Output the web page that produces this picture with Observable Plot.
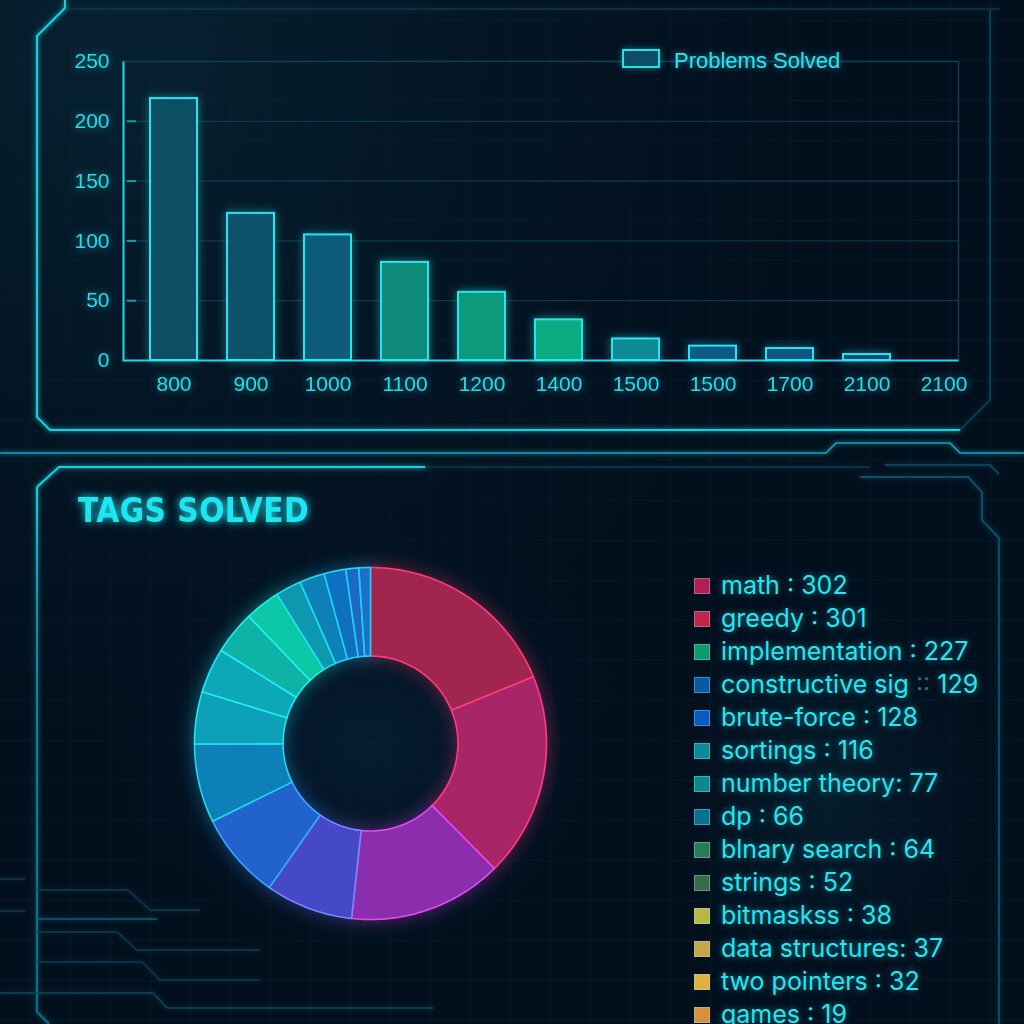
<!DOCTYPE html>
<html>
<head>
<meta charset="utf-8">
<script src="https://cdn.jsdelivr.net/npm/d3@7"></script>
<script src="https://cdn.jsdelivr.net/npm/@observablehq/plot@0.6"></script>
<style>
html, body { margin: 0; padding: 0; background: #020d19; }
#stage {
  position: relative; width: 1024px; height: 1024px; overflow: hidden;
  background-color: #020f1d;
  background-image:
    linear-gradient(rgba(22, 95, 125, 0.13) 1px, transparent 1px),
    linear-gradient(90deg, rgba(22, 95, 125, 0.13) 1px, transparent 1px);
  background-size: 40px 40px;
  background-position: 30px 20px;
}
#deco { position: absolute; left: 0; top: 0; }
#bars { position: absolute; left: 0; top: 0; }
#donut { position: absolute; left: 190px; top: 563px; }
#barLegend {
  position: absolute; left: 622px; top: 49px; white-space: pre;
  font-family: "Liberation Sans", Arial, sans-serif; font-size: 22px; line-height: 22px;
  color: #2fe2ef; text-shadow: 0 0 6px rgba(40, 220, 240, 0.6);
}
#barLegend .sw {
  display: inline-block; width: 34px; height: 15px; vertical-align: baseline;
  background: #0c4e66; border: 2px solid #22e2f0; margin-right: 14px;
  box-shadow: 0 0 6px rgba(30, 220, 240, 0.5);
}
#tagLegend {
  position: absolute; left: 694px; top: 569px; white-space: pre;
  font-family: Inter, "Liberation Sans", sans-serif; font-size: 25px; line-height: 33px;
  color: #26e6f0; text-shadow: 0 0 7px rgba(30, 220, 240, 0.55);
}
#tagLegend .row { height: 33px; }
#tagLegend .sw {
  display: inline-block; width: 14px; height: 14px; vertical-align: baseline;
  border: 1px solid rgba(150, 240, 255, 0.35); margin-right: 11px;
}
#tagLegend .dim { color: #2a6f7a; text-shadow: none; }
#bars g[aria-label="bar"] { filter: url(#softGlow); }
#bars g[aria-label="y-axis tick label"], #bars g[aria-label="x-axis tick label"] {
  filter: drop-shadow(0 0 4px rgba(30, 220, 240, 0.55));
}
#donut g[aria-label="geo"] { filter: url(#donutGlow); }
.title {
  font-family: "DejaVu Sans Condensed", "DejaVu Sans", sans-serif; font-weight: bold;
  font-size: 33px; fill: #1ee6f2; letter-spacing: 0.5px;
}
</style>
</head>
<body>
<div id="stage">
  <svg id="deco" width="1024" height="1024">
    <defs>
      <radialGradient id="bgTop" cx="0.12" cy="0.05" r="0.9">
        <stop offset="0" stop-color="#0a3040" stop-opacity="0.55"/>
        <stop offset="1" stop-color="#020f1d" stop-opacity="0"/>
      </radialGradient>
      <radialGradient id="bgDonut" cx="0.5" cy="0.5" r="0.5">
        <stop offset="0" stop-color="#0b2a46" stop-opacity="0.5"/>
        <stop offset="1" stop-color="#020f1d" stop-opacity="0"/>
      </radialGradient>
      <radialGradient id="bgLegend" cx="0.5" cy="0.5" r="0.5">
        <stop offset="0" stop-color="#0b3040" stop-opacity="0.45"/>
        <stop offset="1" stop-color="#020f1d" stop-opacity="0"/>
      </radialGradient>
      <linearGradient id="leftFade" gradientUnits="userSpaceOnUse" x1="0" y1="487" x2="0" y2="1024">
        <stop offset="0" stop-color="#19cfe2"/>
        <stop offset="0.25" stop-color="#128aa0"/>
        <stop offset="1" stop-color="#0f6d82"/>
      </linearGradient>
      <filter id="lineGlow" x="-10%" y="-10%" width="120%" height="120%">
        <feGaussianBlur stdDeviation="2.5" result="b"/>
        <feMerge><feMergeNode in="b"/><feMergeNode in="SourceGraphic"/></feMerge>
      </filter>
      <filter id="softGlow" x="-30%" y="-30%" width="160%" height="160%">
        <feGaussianBlur in="SourceGraphic" stdDeviation="5" result="b"/>
        <feComponentTransfer in="b" result="b2"><feFuncA type="linear" slope="0.6"/></feComponentTransfer>
        <feMerge><feMergeNode in="b2"/><feMergeNode in="SourceGraphic"/></feMerge>
      </filter>
      <filter id="donutGlow" x="-30%" y="-30%" width="160%" height="160%">
        <feGaussianBlur in="SourceGraphic" stdDeviation="9" result="b"/>
        <feComponentTransfer in="b" result="b2"><feFuncA type="linear" slope="0.55"/></feComponentTransfer>
        <feMerge><feMergeNode in="b2"/><feMergeNode in="SourceGraphic"/></feMerge>
      </filter>
      <filter id="textGlow" x="-20%" y="-40%" width="140%" height="180%">
        <feGaussianBlur stdDeviation="4" result="b"/>
        <feMerge><feMergeNode in="b"/><feMergeNode in="SourceGraphic"/></feMerge>
      </filter>
    </defs>
    <rect x="0" y="0" width="1024" height="1024" fill="url(#bgTop)"/>
    <ellipse cx="370" cy="743" rx="290" ry="270" fill="url(#bgDonut)"/>
    <ellipse cx="830" cy="790" rx="220" ry="260" fill="url(#bgLegend)"/>
    <g fill="none" filter="url(#lineGlow)">
      <path d="M65,9 H1000" stroke="#0c3447" stroke-width="1.5"/>
      <path d="M960,430 L990,400 V9" stroke="#0d4456" stroke-width="1.5"/>
      <path d="M65,0 V8 L37,36 V417 L50,430 H960" stroke="#19cfe2" stroke-width="2"/>
      <path d="M0,453 H826 L836,443 H950 L960,453 H1024" stroke="#12a6be" stroke-width="1.5"/>
      <path d="M425,467 H870" stroke="#0c3a4c" stroke-width="1.5"/>
      <path d="M37,487 L59,467 H425" stroke="#19cfe2" stroke-width="2"/>
      <path d="M37,487 V1012 L49,1024" stroke="url(#leftFade)" stroke-width="2"/>
      <path d="M885,465 H990 L999,474" stroke="#0e4e62" stroke-width="1.5"/>
      <path d="M860,477 H968 L982,492 V520 L999,538 V1024" stroke="#0f5e74" stroke-width="1.5"/>
      <path d="M0,879 H25 M0,911 H25" stroke="#0b3a4c" stroke-width="1.5"/>
      <path d="M37,890 H128 L150,910 H200" stroke="#0b3a4c" stroke-width="1.5"/>
      <path d="M37,919 H157" stroke="#0f5a70" stroke-width="1.5"/>
      <path d="M37,932 H117 L137,950 H260" stroke="#0b3a4c" stroke-width="1.5"/>
      <path d="M37,962 H142 L160,980 H260" stroke="#0b3a4c" stroke-width="1.5"/>
      <path d="M0,993 H153 L167,1008 H433" stroke="#0c4658" stroke-width="1.5"/>
    </g>
    <text class="title" x="78" y="522" filter="url(#textGlow)">TAGS SOLVED</text>
  </svg>
  <div id="bars"></div>
  <div id="barLegend"><span class="sw"></span>Problems Solved</div>
  <div id="donut"></div>
  <div id="tagLegend"></div>
</div>
<script>
// ---------- Data: problems solved by rating ----------
const ratings = ["800", "900", "1000", "1100", "1200", "1400", "1500", "1500", "1700", "2100", "2100"];
const solved = [219, 123, 105, 82, 57, 34, 18, 12, 10, 5, 0];
const barColors = ["#0b4f62", "#0b526c", "#0a5b7a", "#0a8a78", "#0a9a7c", "#0dac80", "#0f8a96", "#0a5a86", "#0a5485", "#0a4a78", "#0a4a78"];
const yTicks = [0, 50, 100, 150, 200, 250];
const yInnerTicks = [50, 100, 150, 200];

// ---------- Data: tags solved ----------
const tags = ["math", "greedy", "implementation", "constructive sig", "brute-force", "sortings", "number theory", "dp", "blnary search", "strings", "bitmaskss", "data structures", "two pointers", "games", "graphs"];
const tagCounts = [302, 301, 227, 129, 128, 116, 77, 66, 64, 52, 38, 37, 32, 19, 17];
const tagSeps = [" : ", " : ", " : ", " :: ", " : ", " : ", ": ", " : ", " : ", " : ", " : ", ": ", " : ", " : ", " : "];
const swatchColors = ["#b01f52", "#c0264c", "#0f9a6a", "#0a5aa2", "#0a5ac6", "#0a8a9a", "#0a8a88", "#0a7092", "#2a7a58", "#3a6a48", "#b8b840", "#c4a848", "#e0b040", "#d8903a", "#c87a3a"];
const sliceColors = ["#a1284f", "#a82868", "#8a2dae", "#4548c8", "#2062cc", "#0a80b8", "#0aa0b9", "#08a8b8", "#08b4a6", "#08c8a6", "#0898b0", "#0a80b8", "#0a70c0", "#1a68c4", "#1a70c8"];
const sliceStrokes = ["#ff3a78", "#ff3a7c", "#e24af2", "#7a86ff", "#3aa6ff", "#22d6f0", "#22e4f0", "#22e8f0", "#22ecf0", "#22f0e8", "#22e0f0", "#22d8f0", "#22d0f2", "#22d0f2", "#22d0f2"];

// ---------- Bar chart ----------
const barData = ratings.map((r, i) => ({key: i, rating: r, solved: solved[i], color: barColors[i]}));
const W = 1024, H = 440, mL = 123, mR = 66, mT = 61, mB = 80;
const fw = W - mL - mR, fh = H - mT - mB;

const barPlot = Plot.plot({
  width: W, height: H,
  marginLeft: mL, marginRight: mR, marginTop: mT, marginBottom: mB,
  style: {background: "transparent", color: "#24dcea", fontFamily: "'Liberation Sans', Arial, sans-serif", overflow: "visible"},
  x: {type: "band", domain: barData.map(d => d.key), range: [146.5, 970.5], paddingInner: 0.395, paddingOuter: 0, label: null},
  y: {domain: [0, 250], label: null},
  color: {type: "identity"},
  marks: [
    Plot.gridY(yInnerTicks, {stroke: "#0e4256", strokeOpacity: 1}),
    Plot.frame({stroke: "#0d3e52", strokeWidth: 1.5}),
    Plot.frame({stroke: "#1fd6ea", strokeWidth: 2, strokeDasharray: `0 ${fw + fh} ${fw + fh} 0`}),
    Plot.axisY(yInnerTicks, {tickSize: 9, dx: 13, tickFormat: () => "", stroke: "#1a9ab2", strokeWidth: 2, label: null}),
    Plot.axisY(yTicks, {tickSize: 0, tickPadding: 14, fontSize: 21, label: null}),
    Plot.axisX({tickSize: 0, tickPadding: 16, fontSize: 21, tickFormat: i => ratings[i], label: null}),
    Plot.barY(barData, {x: "key", y: "solved", fill: "color", stroke: "#22e6f2", strokeWidth: 2, filter: d => d.solved > 0})
  ]
});
document.getElementById("bars").appendChild(barPlot);

// ---------- Donut ----------
const innerRatio = 0.497;
const pie = d3.pie().sort(null).value(d => d)(tagCounts);
function ringSector(a0, a1, r0, r1) {
  const n = Math.max(4, Math.ceil((a1 - a0) / (Math.PI / 180)));
  const pts = [];
  for (let k = 0; k <= n; k++) { const a = a0 + (a1 - a0) * k / n; pts.push([Math.sin(a) * r1, -Math.cos(a) * r1]); }
  for (let k = n; k >= 0; k--) { const a = a0 + (a1 - a0) * k / n; pts.push([Math.sin(a) * r0, -Math.cos(a) * r0]); }
  pts.push(pts[0]);
  return {type: "Polygon", coordinates: [pts]};
}
const sliceFeatures = pie.map((p, i) => ({
  type: "Feature",
  properties: {tag: tags[i], value: tagCounts[i], fill: sliceColors[i], stroke: sliceStrokes[i]},
  geometry: ringSector(p.startAngle, p.endAngle, innerRatio, 1)
}));
const donutDomain = {type: "Polygon", coordinates: [[[-1, -1], [1, -1], [1, 1], [-1, 1], [-1, -1]]]};

const donutPlot = Plot.plot({
  width: 360, height: 360, margin: 4,
  style: {background: "transparent", overflow: "visible"},
  projection: {type: "identity", domain: donutDomain},
  color: {type: "identity"},
  marks: [
    Plot.geo(sliceFeatures, {fill: d => d.properties.fill, stroke: d => d.properties.stroke, strokeWidth: 1.6, strokeLinejoin: "round"})
  ]
});
document.getElementById("donut").appendChild(donutPlot);

// ---------- Tag legend ----------
const legend = d3.select("#tagLegend");
tags.forEach((t, i) => {
  const row = legend.append("div").attr("class", "row");
  row.append("span").attr("class", "sw").style("background", swatchColors[i]);
  row.append("span").text(t);
  row.append("span").attr("class", tagSeps[i].includes("::") ? "dim" : null).text(tagSeps[i]);
  row.append("span").text(tagCounts[i]);
});
</script>
</body>
</html>
